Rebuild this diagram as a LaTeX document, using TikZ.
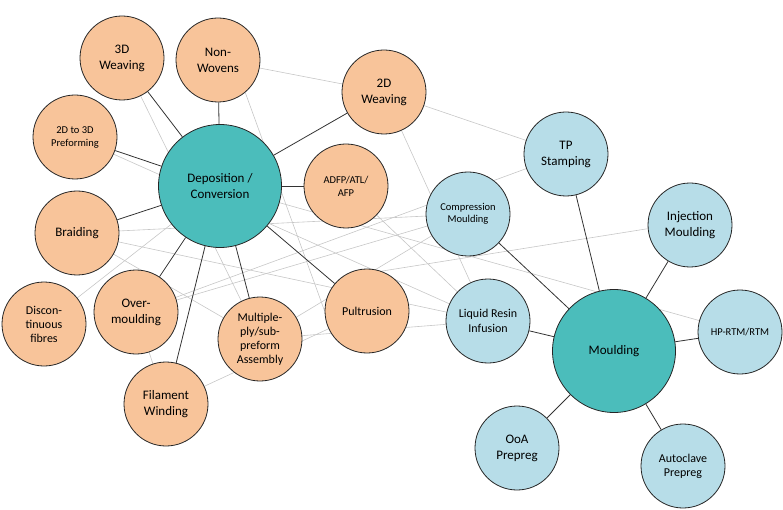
\documentclass[tikz,border=0pt]{standalone}
\usepackage{fontspec}
\setmainfont{Carlito}
\definecolor{peach}{RGB}{248,196,154}
\definecolor{hubteal}{RGB}{75,189,187}
\definecolor{lightblue}{RGB}{183,221,232}
\pgfdeclarelayer{background}
\pgfsetlayers{background,main}
\begin{document}
\begin{tikzpicture}[x=1pt, y=-1pt,
                every node/.style={circle, draw=black!85, line width=0.8pt, inner sep=0pt, align=center},
                sub_style/.style={fill=peach, minimum size=84pt},
                proc_style/.style={fill=lightblue, minimum size=84pt},
                hub_style/.style={fill=hubteal, minimum size=123pt},
                big_text/.style={font=\fontsize{13}{16}\selectfont},
                mid_text/.style={font=\fontsize{12}{14}\selectfont},
                small_text/.style={font=\fontsize{10.5}{13}\selectfont},
                edge_style/.style={draw=black!80, line width=0.8pt},
                link_style/.style={draw=black!22, line width=0.6pt}]
                \useasboundingbox (0,0) rectangle (783,510);
                % hubs
                \node[hub_style, font=\fontsize{13}{15.5}\selectfont] (dep) at (220,186) {Deposition /\\Conversion};
                \node[hub_style, big_text] (mould) at (614,351) {Moulding};
                % deposition / conversion routes
                \node[sub_style, big_text] (weave3d) at (122,58) {3D\\Weaving};
                \node[sub_style, big_text] (nonwov) at (218,60) {Non-\\Wovens};
                \node[sub_style, big_text] (weave2d) at (384,92) {2D\\Weaving};
                \node[sub_style, small_text] (pre23) at (75,137) {2D to 3D\\Preforming};
                \node[sub_style, small_text] (adfp) at (346,186) {ADFP/ATL/\\AFP};
                \node[sub_style, big_text] (braid) at (77,233) {Braiding};
                \node[sub_style, mid_text] (discont) at (44,324) {Discon-\\tinuous\\fibres};
                \node[sub_style, big_text] (overm) at (136,312) {Over-\\moulding};
                \node[sub_style, mid_text] (multi) at (260,339) {Multiple-\\ply/sub-\\preform\\Assembly};
                \node[sub_style, mid_text] (pultr) at (367,311) {Pultrusion};
                \node[sub_style, big_text] (filwind) at (166,404) {Filament\\Winding};
                % moulding routes
                \node[proc_style, big_text] (tpstamp) at (566,154) {TP\\Stamping};
                \node[proc_style, font=\fontsize{10.5}{12}\selectfont] (compr) at (468,214) {Compression\\Moulding};
                \node[proc_style, big_text] (inject) at (690,225) {Injection\\Moulding};
                \node[proc_style, font=\fontsize{12}{15}\selectfont] (lri) at (488,321) {Liquid Resin\\Infusion};
                \node[proc_style, small_text] (hprtm) at (740,332) {HP-RTM/RTM};
                \node[proc_style, big_text] (ooa) at (517,448) {OoA\\Prepreg};
                \node[proc_style, mid_text] (autocl) at (683,466) {Autoclave\\Prepreg};
                % hub spokes
                \foreach \v in {weave3d, nonwov, weave2d, pre23, adfp, braid, overm, multi, pultr, filwind}
                    \draw[edge_style] (dep) edge (\v);
                \foreach \v in {tpstamp, compr, inject, lri, hprtm, ooa, autocl}
                    \draw[edge_style] (mould) edge (\v);
                % grey cross links behind the circles
                \begin{pgfonlayer}{background}
                \foreach \a/\b in {nonwov/weave2d, weave2d/tpstamp, weave3d/multi, pre23/lri, weave2d/lri,
                                   discont/dep, braid/multi, tpstamp/overm, overm/compr, overm/filwind,
                                   filwind/pultr, multi/lri, multi/compr, dep/hprtm, braid/compr,
                                   adfp/lri, braid/lri}
                    \draw[link_style] (\a.center) -- (\b.center);
                \draw[link_style] (nonwov.-50) -- (pultr.west);
                \draw[link_style] (pultr.70) -- (inject.185);
                \end{pgfonlayer}
            \end{tikzpicture}
\end{document}
